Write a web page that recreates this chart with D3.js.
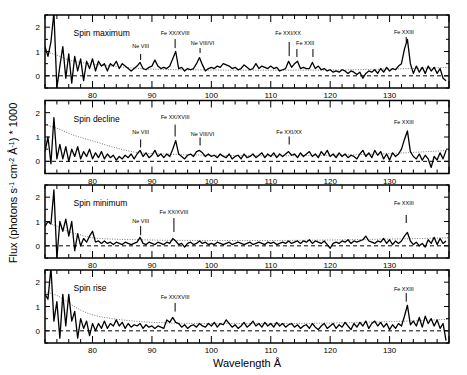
<!DOCTYPE html>
<html>
<head>
<meta charset="utf-8">
<script src="https://cdn.jsdelivr.net/npm/d3@7"></script>
<style>
  body { margin: 0; background: #fff; }
  svg { font-family: "Liberation Sans", Arial, sans-serif; }
</style>
</head>
<body>
<svg id="chart" width="467" height="375"></svg>
<script>
// wavelength grid: first bin and bin width (Å)
const lambdaStart = 72.0;
const lambdaStep = 0.5;

const panelNames = ["Spin maximum", "Spin decline", "Spin minimum", "Spin rise"];

const fluxMaximum = [
  1.2, 0.8, 1.4, 2.6, -0.5, 0.4, 1.2, -0.1, 0.9, -0.3,
  0.8, 0.2, 0.7, -0.2, 0.6, 0.3, 0.7, 0.2, 0.6, 0.4,
  0.5, 0.2, 0.5, 0.4, 0.6, 0.3, 0.5, 0.4, 0.3, 0.2,
  0.3, 0.4, 0.55, 0.3, 0.25, 0.35, 0.4, 0.65, 0.4, 0.3,
  0.35, 0.3, 0.4, 0.7, 1.0, 0.3, 0.35, 0.2, 0.3, 0.25,
  0.3, 0.5, 0.75, 0.45, 0.2, 0.3, 0.35, 0.3, 0.4, 0.35,
  0.5, 0.45, 0.4, 0.3, 0.35, 0.25, 0.3, 0.45, 0.35, 0.25,
  0.3, 0.5, 0.3, 0.4, 0.35, 0.3, 0.4, 0.3, 0.35, 0.2,
  0.25, 0.3, 0.6, 0.35, 0.5, 0.6, 0.3, 0.35, 0.3, 0.3,
  0.55, 0.3, 0.4, 0.25, 0.3, 0.2, 0.25, 0.15, 0.2, 0.15,
  0.25, 0.2, 0.1, 0.2, 0.15, 0.05, 0.15, -0.1, 0.1, 0.2,
  0.15, 0.25, 0.1, 0.3, 0.15, 0.35, 0.2, 0.3, 0.25, 0.4,
  0.5, 1.1, 1.5, 0.5, 0.1, 0.4, 0.15, 0.35, 0.1, 0.4,
  0.2, 0.35, 0.1, 0.3, -0.1, -0.2
];

const fluxDecline = [
  0.4, 1.0, -0.1, 1.8, 0.1, 0.7, 0.1, 0.6, 0.0, 0.5,
  0.2, 0.6, 0.1, 0.4, 0.2, 0.5, 0.1, 0.35, 0.15, 0.4,
  0.1, 0.3, 0.15, 0.25, 0.05, 0.2, 0.1, 0.25, 0.15, 0.3,
  0.1, 0.3, 0.45, 0.2, 0.35, 0.15, 0.25, 0.45, 0.2, 0.3,
  0.15, 0.3, 0.2, 0.5, 0.85, 0.3, 0.2, 0.1, 0.25, 0.3,
  0.2, 0.4, 0.45, 0.35, 0.2, 0.3, 0.2, 0.25, 0.15, 0.3,
  0.2, 0.15, 0.3, 0.1, 0.2, 0.25, 0.1, 0.3, 0.15, 0.2,
  0.3, 0.15, 0.25, 0.35, 0.15, 0.3, 0.2, 0.35, 0.15, 0.3,
  0.2, 0.3, 0.4, 0.25, 0.3, 0.15, 0.35, 0.2, 0.3, 0.4,
  0.2, 0.3, 0.15, 0.4, 0.25, 0.45, 0.2, 0.3, 0.15, 0.35,
  0.2, 0.3, 0.15, 0.25, 0.2, 0.1, 0.3, 0.45, 0.2, 0.35,
  0.15, 0.45, 0.25, 0.4, 0.1, 0.3, 0.05, 0.35, 0.2, 0.3,
  0.5, 0.9, 1.25, 0.4, 0.2, 0.1, 0.3, 0.05, 0.25, 0.1,
  -0.25, 0.2, 0.05, 0.35, 0.1, 0.45
];

const fluxMinimum = [
  0.8, 1.0, 0.9, 2.3, -0.5, 1.0, 0.6, 1.1, 0.4, 1.0,
  -0.2, 0.5, 0.0, 0.3, 0.15, 0.4, 0.6, 0.15, 0.2, 0.1,
  0.2, 0.1, 0.15, 0.05, 0.15, 0.1, 0.05, 0.15, 0.1, 0.05,
  0.1, 0.15, 0.35, 0.1, 0.05, 0.15, 0.1, 0.05, 0.15, 0.1,
  0.05, 0.15, 0.1, 0.3, 0.2, 0.05, 0.1, -0.05, 0.1, 0.15,
  0.05, 0.1, 0.2, 0.1, 0.15, 0.05, 0.1, 0.05, 0.15, 0.1,
  0.05, 0.1, 0.15, 0.05, 0.1, 0.15, 0.1, 0.05, 0.1, 0.15,
  0.05, 0.1, 0.15, 0.1, 0.05, 0.15, 0.1, 0.15, 0.05, 0.1,
  0.15, 0.1, 0.2, 0.1, 0.15, 0.2, 0.1, 0.2, 0.15, 0.25,
  0.1, 0.2, 0.15, 0.1, 0.2, 0.05, -0.1, 0.1, 0.15, 0.1,
  0.2, 0.15, 0.25, 0.1, 0.2, 0.15, 0.2, 0.25, 0.4, 0.2,
  0.15, 0.1, 0.2, 0.15, 0.3, 0.1, 0.25, 0.05, 0.2, 0.1,
  0.2, 0.4, 0.55, 0.2, 0.05, 0.15, 0.0, 0.1, -0.05, 0.25,
  0.1, 0.35, 0.05, 0.3, 0.1, 0.2
];

const fluxRise = [
  1.5, 1.3, 2.6, 0.4, 1.2, -0.3, 1.5, 0.2, 1.5, 0.4,
  0.8, -0.3, 0.5, 0.1, 0.4, -0.2, 0.3, 0.0, 0.3, 0.1,
  0.4, 0.1, 0.3, 0.2, 0.45, 0.2, 0.35, 0.1, 0.3, 0.15,
  0.25, 0.2, 0.3, 0.1, 0.25, 0.15, 0.2, 0.1, 0.2, 0.15,
  0.1, 0.45, 0.35, 0.55, 0.35, 0.3, 0.15, 0.25, 0.1, 0.2,
  0.25, 0.15, 0.3, 0.2, 0.15, 0.3, 0.2, 0.35, 0.15, 0.3,
  0.25, 0.45, 0.3, 0.15, 0.25, 0.1, 0.2, 0.35, 0.15, 0.25,
  0.4, 0.2, 0.3, 0.15, 0.35, 0.2, 0.3, 0.15, 0.35, 0.2,
  0.3, 0.15, 0.25, 0.3, 0.15, 0.25, 0.1, 0.2, 0.25, 0.1,
  0.3, 0.15, 0.05, 0.2, 0.3, 0.1, 0.2, 0.3, 0.1, 0.25,
  0.15, 0.35, 0.2, 0.05, 0.3, 0.15, 0.35, 0.2, 0.4, 0.1,
  0.3, 0.4, 0.2, 0.35, 0.15, 0.3, 0.05, 0.25, 0.1, 0.3,
  0.2, 0.6, 1.05, 0.25, 0.4, 0.2, 0.55, 0.15, 0.6, 0.3,
  0.5, 0.2, 0.45, 0.1, 0.3, -0.4
];

// background model (dotted), sampled at these wavelengths
const bgLambda = [72, 74, 76, 78, 80, 84, 88, 92, 100, 110, 120, 130, 135, 140];
const bgMaximum = [1.0, 0.85, 0.65, 0.55, 0.48, 0.38, 0.3, 0.26, 0.24, 0.23, 0.24, 0.28, 0.31, 0.35];
const bgDecline = [1.5, 1.36, 1.15, 0.98, 0.84, 0.55, 0.35, 0.3, 0.25, 0.23, 0.25, 0.32, 0.38, 0.45];
const bgMinimum = [1.0, 0.8, 0.58, 0.45, 0.33, 0.27, 0.25, 0.23, 0.22, 0.22, 0.24, 0.28, 0.3, 0.33];
const bgRise = [1.6, 1.45, 1.15, 0.85, 0.66, 0.48, 0.38, 0.33, 0.3, 0.3, 0.32, 0.38, 0.42, 0.48];

// line identifications: label, label wavelength, label height, marker wavelengths, marker top/bottom
const linesMaximum = [
  { label: "Ne VIII", lx: 88.1, ly: 1.14, marks: [88.1], m0: 0.9, m1: 0.65 },
  { label: "Fe XX/XVIII", lx: 93.9, ly: 1.68, marks: [93.9], m0: 1.51, m1: 1.14 },
  { label: "Ne VIII/VI", lx: 98.5, ly: 1.27, marks: [98.1], m0: 1.14, m1: 0.94 },
  { label: "Fe XXI/XX", lx: 112.9, ly: 1.68, marks: [113.1], m0: 1.39, m1: 0.81 },
  { label: "Fe XXII", lx: 115.8, ly: 1.27, marks: [114.4, 117.1], m0: 1.1, m1: 0.77 },
  { label: "Fe XXIII", lx: 132.4, ly: 1.72, marks: [132.8], m0: 1.6, m1: 1.39 }
];
const linesDecline = [
  { label: "Ne VIII", lx: 88.1, ly: 1.12, marks: [88.1], m0: 0.9, m1: 0.57 },
  { label: "Fe XX/XVIII", lx: 93.9, ly: 1.72, marks: [93.9], m0: 1.51, m1: 1.02 },
  { label: "Ne VIII/VI", lx: 98.5, ly: 1.06, marks: [98.1], m0: 0.98, m1: 0.65 },
  { label: "Fe XXI/XX", lx: 113.1, ly: 1.14, marks: [113.1], m0: 1.02, m1: 0.69 },
  { label: "Fe XXIII", lx: 132.4, ly: 1.55, marks: [], m0: 0, m1: 0 }
];
const linesMinimum = [
  { label: "Ne VIII", lx: 88.1, ly: 0.92, marks: [88.1], m0: 0.81, m1: 0.44 },
  { label: "Fe XX/XVIII", lx: 93.7, ly: 1.29, marks: [93.7], m0: 1.14, m1: 0.57 },
  { label: "Fe XXIII", lx: 132.4, ly: 1.68, marks: [132.8], m0: 1.27, m1: 0.94 }
];
const linesRise = [
  { label: "Fe XX/XVIII", lx: 93.9, ly: 1.29, marks: [93.9], m0: 1.15, m1: 0.79 },
  { label: "Fe XXIII", lx: 132.4, ly: 1.64, marks: [132.8], m0: 1.55, m1: 1.2 }
];

const xTickLabels = [80, 90, 100, 110, 120, 130];
const yTickLabels = [0, 1, 2];

const fluxes = [fluxMaximum, fluxDecline, fluxMinimum, fluxRise];
const backgrounds = [bgMaximum, bgDecline, bgMinimum, bgRise];
const idents = [linesMaximum, linesDecline, linesMinimum, linesRise];

/* ---------------------------
   Layout
--------------------------- */
const left = 45, right = 449;
const panelTops = [15, 100.5, 185, 270];
const panelH = 73;

const svg = d3.select("#chart");

const x = d3.scaleLinear().domain([72, 140]).range([left, right]);

const minorX = d3.range(72, 141, 2);

panelNames.forEach((name, p) => {
  const top = panelTops[p];
  const y = d3.scaleLinear().domain([-0.5, 2.5]).range([top + panelH, top]);
  const g = svg.append("g");

  g.append("clipPath").attr("id", "clip" + p)
    .append("rect")
    .attr("x", left).attr("y", top)
    .attr("width", right - left).attr("height", panelH);

  // zero level
  g.append("line")
    .attr("x1", left).attr("x2", right)
    .attr("y1", y(0)).attr("y2", y(0))
    .attr("stroke", "#000").attr("stroke-width", 1)
    .attr("stroke-dasharray", "4,3");

  // background model
  const bg = bgLambda.map((l, i) => [l, backgrounds[p][i]]);
  g.append("path")
    .datum(bg)
    .attr("clip-path", `url(#clip${p})`)
    .attr("fill", "none")
    .attr("stroke", "#555")
    .attr("stroke-width", 0.8)
    .attr("stroke-dasharray", "1,1.5")
    .attr("d", d3.line().x(d => x(d[0])).y(d => y(d[1])).curve(d3.curveMonotoneX));

  // spectrum
  const spec = fluxes[p].map((v, i) => [lambdaStart + i * lambdaStep, v]);
  g.append("path")
    .datum(spec)
    .attr("clip-path", `url(#clip${p})`)
    .attr("fill", "none")
    .attr("stroke", "#000")
    .attr("stroke-width", 1.3)
    .attr("stroke-linejoin", "round")
    .attr("d", d3.line().x(d => x(d[0])).y(d => y(d[1])));

  // frame
  g.append("rect")
    .attr("x", left).attr("y", top)
    .attr("width", right - left).attr("height", panelH)
    .attr("fill", "none").attr("stroke", "#000").attr("stroke-width", 1.5);

  // x ticks top & bottom, inward
  minorX.forEach(v => {
    const len = v % 10 === 0 ? 7 : 4;
    g.append("line")
      .attr("x1", x(v)).attr("x2", x(v))
      .attr("y1", top + panelH).attr("y2", top + panelH - len)
      .attr("stroke", "#000").attr("stroke-width", 1);
    g.append("line")
      .attr("x1", x(v)).attr("x2", x(v))
      .attr("y1", top).attr("y2", top + len)
      .attr("stroke", "#000").attr("stroke-width", 1);
  });

  g.selectAll(".xl")
    .data(xTickLabels)
    .enter().append("text")
    .attr("x", d => x(d))
    .attr("y", top + panelH + 10)
    .attr("text-anchor", "middle")
    .attr("font-size", "8px")
    .text(d => d);

  // y ticks
  d3.range(-0.5, 2.6, 0.5).forEach(v => {
    const len = Math.abs(v % 1) < 1e-6 ? 5 : 3;
    g.append("line")
      .attr("x1", left).attr("x2", left + len)
      .attr("y1", y(v)).attr("y2", y(v))
      .attr("stroke", "#000").attr("stroke-width", 1);
    g.append("line")
      .attr("x1", right).attr("x2", right - len)
      .attr("y1", y(v)).attr("y2", y(v))
      .attr("stroke", "#000").attr("stroke-width", 1);
  });

  g.selectAll(".yl")
    .data(yTickLabels)
    .enter().append("text")
    .attr("x", left - 5)
    .attr("y", d => y(d) + 3)
    .attr("text-anchor", "end")
    .attr("font-size", "8px")
    .text(d => d);

  // panel title
  g.append("text")
    .attr("x", x(76.8))
    .attr("y", top + 21)
    .attr("font-size", "8.5px")
    .text(name);

  // line identifications
  idents[p].forEach(d => {
    g.append("text")
      .attr("x", x(d.lx))
      .attr("y", y(d.ly))
      .attr("text-anchor", "middle")
      .attr("font-size", "5.5px")
      .text(d.label);
    d.marks.forEach(m => {
      g.append("line")
        .attr("x1", x(m)).attr("x2", x(m))
        .attr("y1", y(d.m0)).attr("y2", y(d.m1))
        .attr("stroke", "#000").attr("stroke-width", 1);
    });
  });
});

/* ---------------------------
   Axis titles
--------------------------- */
svg.append("text")
  .attr("x", 247)
  .attr("y", 367)
  .attr("text-anchor", "middle")
  .attr("font-size", "11px")
  .text("Wavelength Å");

const yt = svg.append("text")
  .attr("transform", "translate(17,183) rotate(-90)")
  .attr("text-anchor", "middle")
  .attr("font-size", "11px");
yt.append("tspan").text("Flux (photons s");
yt.append("tspan").attr("baseline-shift", "super").attr("font-size", "7px").text("-1");
yt.append("tspan").text(" cm");
yt.append("tspan").attr("baseline-shift", "super").attr("font-size", "7px").text("-2");
yt.append("tspan").text(" Å");
yt.append("tspan").attr("baseline-shift", "super").attr("font-size", "7px").text("-1");
yt.append("tspan").text(") * 1000");
</script>
</body>
</html>
